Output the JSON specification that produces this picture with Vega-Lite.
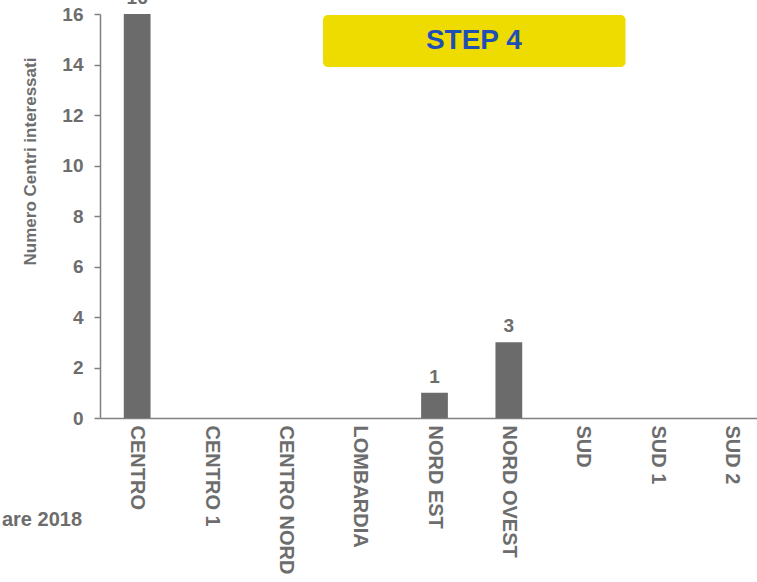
{
  "$schema": "https://vega.github.io/schema/vega-lite/v6.json",
  "autosize": {"type": "none"},
  "padding": {"left": 100, "top": 14, "right": 0, "bottom": 164},
  "width": 657,
  "height": 404,
  "background": "white",
  "config": {
    "view": {"stroke": null},
    "font": "Liberation Sans",
    "text": {"font": "Liberation Sans", "fontWeight": "bold"}
  },
  "datasets": {
    "bars": [
      {"regione": "CENTRO", "centri": 16},
      {"regione": "CENTRO 1", "centri": 0},
      {"regione": "CENTRO NORD", "centri": 0},
      {"regione": "LOMBARDIA", "centri": 0},
      {"regione": "NORD EST", "centri": 1},
      {"regione": "NORD OVEST", "centri": 3},
      {"regione": "SUD", "centri": 0},
      {"regione": "SUD 1", "centri": 0},
      {"regione": "SUD 2", "centri": 0}
    ],
    "box": [{"x0": 3.0, "x1": 7.07, "y0": 13.9, "y1": 15.96, "xm": 5.03, "ym": 14.93, "label": "STEP 4"}],
    "note": [{"x": -0.242, "y": -4.28, "label": "are 2018"}]
  },
  "layer": [
    {
      "data": {"name": "bars"},
      "encoding": {
        "x": {
          "field": "regione", "type": "nominal", "sort": null,
          "scale": {"range": [0, 669], "paddingInner": 0.64, "paddingOuter": 0.32},
          "axis": {
            "title": null, "labelAngle": 90, "labelAlign": "left", "labelBaseline": "middle",
            "labelFont": "Liberation Sans", "labelFontWeight": "bold", "labelFontSize": 20,
            "labelColor": "#6d6d6d", "labelPadding": 7, "ticks": false,
            "domainColor": "#808080", "domainWidth": 1.5, "grid": false
          }
        },
        "y": {
          "field": "centri", "type": "quantitative",
          "scale": {"domain": [0, 16], "nice": false, "zero": true},
          "axis": {
            "title": "Numero Centri interessati", "values": [0, 2, 4, 6, 8, 10, 12, 14, 16],
            "grid": false, "titleFont": "Liberation Sans", "titleFontWeight": "bold", "titleFontSize": 17,
            "titleColor": "#6d6d6d", "titleX": -65, "titleY": 147, "titleAngle": -90,
            "titleAlign": "center", "titleBaseline": "alphabetic",
            "labelFont": "Liberation Sans", "labelFontWeight": "bold", "labelFontSize": 19,
            "labelColor": "#6d6d6d", "labelPadding": 11, "tickSize": 6, "tickColor": "#808080",
            "tickWidth": 1.5, "domainColor": "#808080", "domainWidth": 1.5
          }
        }
      },
      "layer": [
        {"mark": {"type": "bar", "color": "#6b6b6b"}},
        {
          "transform": [{"filter": "datum.centri > 0"}],
          "mark": {"type": "text", "baseline": "alphabetic", "dy": -10, "fontSize": 19, "fontWeight": "bold", "color": "#6d6d6d"},
          "encoding": {"text": {"field": "centri", "type": "quantitative"}}
        }
      ]
    },
    {
      "data": {"name": "box"},
      "mark": {"type": "rect", "color": "#eedc00", "cornerRadius": 5},
      "encoding": {
        "x": {"field": "x0", "type": "quantitative", "scale": {"domain": [0, 9], "range": [0, 669], "nice": false, "zero": false}, "axis": null},
        "x2": {"field": "x1"},
        "y": {"field": "y0", "type": "quantitative"},
        "y2": {"field": "y1"}
      }
    },
    {
      "data": {"name": "box"},
      "mark": {"type": "text", "align": "center", "baseline": "middle", "fontSize": 28, "fontWeight": "bold", "color": "#1f4fb5"},
      "encoding": {
        "x": {"field": "xm", "type": "quantitative", "scale": {"domain": [0, 9], "range": [0, 669], "nice": false, "zero": false}, "axis": null},
        "y": {"field": "ym", "type": "quantitative"},
        "text": {"field": "label"}
      }
    },
    {
      "data": {"name": "note"},
      "mark": {"type": "text", "align": "right", "baseline": "alphabetic", "fontSize": 20, "fontWeight": "bold", "color": "#6d6d6d"},
      "encoding": {
        "x": {"field": "x", "type": "quantitative", "scale": {"domain": [0, 9], "range": [0, 669], "nice": false, "zero": false}, "axis": null},
        "y": {"field": "y", "type": "quantitative"},
        "text": {"field": "label"}
      }
    }
  ],
  "resolve": {"scale": {"x": "independent"}}
}
